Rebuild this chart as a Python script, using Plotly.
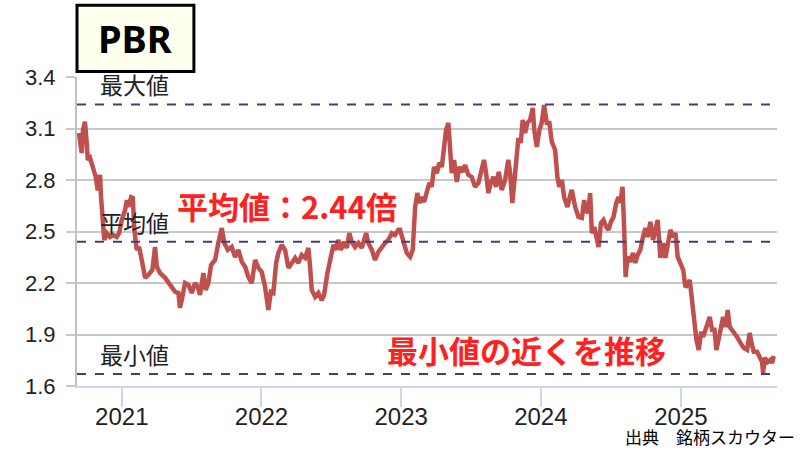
import pandas as pd
import plotly.graph_objects as go

# ---- data ----
years_dec = [
    2020.694, 2020.702, 2020.714, 2020.723, 2020.737, 2020.750, 2020.757, 2020.773, 2020.795, 2020.814,
    2020.828, 2020.838, 2020.845, 2020.852, 2020.861, 2020.875, 2020.893, 2020.916, 2020.938, 2020.964,
    2020.981, 2021.000, 2021.024, 2021.036, 2021.047, 2021.067, 2021.079, 2021.090, 2021.107, 2021.124,
    2021.143, 2021.167, 2021.190, 2021.219, 2021.238, 2021.251, 2021.274, 2021.310, 2021.346, 2021.382,
    2021.405, 2021.417, 2021.434, 2021.453, 2021.477, 2021.501, 2021.525, 2021.544, 2021.560, 2021.584,
    2021.601, 2021.620, 2021.639, 2021.668, 2021.691, 2021.716, 2021.734, 2021.759, 2021.787, 2021.811,
    2021.835, 2021.859, 2021.883, 2021.906, 2021.931, 2021.954, 2021.978, 2022.002, 2022.026, 2022.049,
    2022.067, 2022.085, 2022.105, 2022.121, 2022.145, 2022.169, 2022.193, 2022.217, 2022.241, 2022.264,
    2022.288, 2022.312, 2022.336, 2022.348, 2022.360, 2022.384, 2022.407, 2022.432, 2022.448, 2022.472,
    2022.491, 2022.515, 2022.534, 2022.550, 2022.568, 2022.591, 2022.611, 2022.629, 2022.646, 2022.670,
    2022.694, 2022.718, 2022.749, 2022.765, 2022.790, 2022.813, 2022.837, 2022.861, 2022.885, 2022.908,
    2022.933, 2022.956, 2022.980, 2022.992, 2023.016, 2023.040, 2023.064, 2023.083, 2023.100, 2023.116,
    2023.130, 2023.147, 2023.164, 2023.183, 2023.202, 2023.219, 2023.235, 2023.255, 2023.273, 2023.291,
    2023.307, 2023.321, 2023.338, 2023.350, 2023.362, 2023.379, 2023.398, 2023.417, 2023.441, 2023.457,
    2023.481, 2023.505, 2023.529, 2023.553, 2023.577, 2023.593, 2023.608, 2023.624, 2023.641, 2023.660,
    2023.679, 2023.699, 2023.720, 2023.744, 2023.767, 2023.780, 2023.796, 2023.810, 2023.827, 2023.839,
    2023.856, 2023.870, 2023.887, 2023.903, 2023.923, 2023.942, 2023.953, 2023.971, 2023.989, 2024.006,
    2024.023, 2024.042, 2024.061, 2024.078, 2024.102, 2024.118, 2024.132, 2024.150, 2024.166, 2024.190,
    2024.209, 2024.221, 2024.245, 2024.268, 2024.293, 2024.309, 2024.324, 2024.340, 2024.352, 2024.364,
    2024.381, 2024.400, 2024.412, 2024.429, 2024.447, 2024.467, 2024.483, 2024.500, 2024.519, 2024.538,
    2024.555, 2024.567, 2024.583, 2024.595, 2024.605, 2024.619, 2024.638, 2024.658, 2024.674, 2024.691,
    2024.710, 2024.729, 2024.746, 2024.762, 2024.782, 2024.801, 2024.817, 2024.834, 2024.853, 2024.873,
    2024.889, 2024.905, 2024.925, 2024.944, 2024.961, 2024.977, 2024.996, 2025.016, 2025.032, 2025.049,
    2025.063, 2025.080, 2025.097, 2025.111, 2025.127, 2025.145, 2025.159, 2025.175, 2025.192, 2025.206,
    2025.223, 2025.240, 2025.254, 2025.270, 2025.288, 2025.302, 2025.318, 2025.335, 2025.349, 2025.366,
    2025.383, 2025.402, 2025.426, 2025.449, 2025.474, 2025.492, 2025.505, 2025.521, 2025.545, 2025.564,
    2025.581, 2025.588, 2025.600, 2025.621, 2025.641, 2025.653, 2025.664,
]
pbr = [
    3.074, 3.016, 2.957, 3.090, 3.140, 3.016, 2.917, 2.930, 2.876, 2.818,
    2.740, 2.818, 2.830, 2.700, 2.567, 2.450, 2.490, 2.468, 2.480, 2.468,
    2.490, 2.567, 2.625, 2.683, 2.643, 2.700, 2.695, 2.510, 2.393, 2.410,
    2.334, 2.230, 2.247, 2.276, 2.410, 2.294, 2.258, 2.230, 2.189, 2.148,
    2.142, 2.055, 2.119, 2.200, 2.189, 2.142, 2.200, 2.177, 2.130, 2.258,
    2.160, 2.200, 2.305, 2.334, 2.433, 2.520, 2.433, 2.393, 2.410, 2.352,
    2.393, 2.323, 2.294, 2.235, 2.200, 2.334, 2.288, 2.264, 2.177, 2.043,
    2.148, 2.142, 2.317, 2.375, 2.422, 2.393, 2.288, 2.323, 2.346, 2.317,
    2.363, 2.346, 2.404, 2.294, 2.160, 2.119, 2.142, 2.100, 2.130, 2.258,
    2.334, 2.422, 2.393, 2.451, 2.393, 2.439, 2.404, 2.491, 2.439, 2.410,
    2.433, 2.404, 2.491, 2.433, 2.393, 2.334, 2.381, 2.410, 2.433, 2.451,
    2.491, 2.480, 2.510, 2.510, 2.433, 2.375, 2.352, 2.393, 2.643, 2.724,
    2.666, 2.700, 2.672, 2.742, 2.783, 2.760, 2.876, 2.840, 2.900, 2.876,
    2.992, 3.090, 3.132, 3.016, 2.840, 2.917, 2.789, 2.876, 2.847, 2.888,
    2.830, 2.818, 2.760, 2.783, 2.858, 2.917, 2.840, 2.724, 2.783, 2.818,
    2.760, 2.847, 2.742, 2.800, 2.917, 2.840, 2.666, 2.783, 2.957, 3.045,
    3.016, 3.150, 3.074, 3.132, 3.150, 3.220, 3.090, 2.992, 3.090, 3.132,
    3.237, 3.132, 3.132, 3.022, 2.975, 2.818, 2.760, 2.800, 2.700, 2.643,
    2.710, 2.742, 2.643, 2.585, 2.579, 2.683, 2.608, 2.625, 2.724, 2.491,
    2.526, 2.468, 2.410, 2.550, 2.567, 2.526, 2.510, 2.556, 2.585, 2.666,
    2.700, 2.666, 2.760, 2.510, 2.235, 2.352, 2.323, 2.375, 2.317, 2.363,
    2.393, 2.468, 2.520, 2.468, 2.556, 2.451, 2.520, 2.567, 2.346, 2.433,
    2.346, 2.439, 2.510, 2.468, 2.491, 2.352, 2.317, 2.276, 2.177, 2.189,
    2.218, 2.084, 1.967, 1.868, 1.810, 1.915, 1.886, 1.927, 1.967, 2.002,
    1.927, 1.927, 1.810, 1.886, 1.967, 2.002, 1.944, 2.043, 1.944, 1.927,
    1.909, 1.886, 1.851, 1.822, 1.810, 1.909, 1.851, 1.800, 1.800, 1.770,
    1.740, 1.676, 1.764, 1.740, 1.752, 1.734, 1.775,
]
max_value = 3.24
avg_value = 2.44
min_value = 1.67
ref_labels = ["最大値", "平均値", "最小値"]
title_text = "PBR"
avg_note = "平均値：2.44倍"
trend_note = "最小値の近くを推移"
source_text = "出典　銘柄スカウター"
y_ticks = [1.6, 1.9, 2.2, 2.5, 2.8, 3.1, 3.4]


def to_date(y):
    yr = int(y)
    start = pd.Timestamp(yr, 1, 1)
    ndays = (pd.Timestamp(yr + 1, 1, 1) - start).days
    return start + pd.Timedelta(days=(y - yr) * ndays)


dates = [to_date(v) for v in years_dec]

CJK = "Noto Sans CJK JP"
NUM = "Liberation Sans, Arial, sans-serif"

fig = go.Figure()
fig.add_trace(go.Scatter(
    x=dates, y=pbr, mode="lines",
    line=dict(color="#c0504d", width=4.5),
    hoverinfo="skip", showlegend=False,
))

# reference dashed lines
for val in (max_value, avg_value, min_value):
    fig.add_shape(type="line", xref="paper", yref="y", x0=0, x1=1, y0=val, y1=val,
                  line=dict(color="#4b3a78", width=2, dash="dash"), layer="above")

# labels over reference lines
for lab, val in zip(ref_labels, (max_value, avg_value, min_value)):
    fig.add_annotation(text=lab, xref="paper", yref="y", x=0.03, y=val,
                       xanchor="left", yanchor="bottom", yshift=1, showarrow=False,
                       font=dict(family=CJK, size=23, color="#222222"))

# red notes
fig.add_annotation(text=f"<b>{avg_note}</b>", xref="paper", yref="paper",
                   x=0.14, y=0.585, xanchor="left", yanchor="middle", showarrow=False,
                   font=dict(family=CJK, size=31, color="#ff2020"))
fig.add_annotation(text=f"<b>{trend_note}</b>", xref="paper", yref="paper",
                   x=0.44, y=0.117, xanchor="left", yanchor="middle", showarrow=False,
                   font=dict(family=CJK, size=31, color="#ff2020"))

# title box
fig.add_shape(type="rect", xref="paper", yref="paper", x0=0.0, x1=0.167, y0=1.018, y1=1.232,
              line=dict(color="#000000", width=3), fillcolor="#fffff0", layer="above")
fig.add_annotation(text=f"<b>{title_text}</b>", xref="paper", yref="paper", x=0.0835, y=1.125,
                   xanchor="center", yanchor="middle", showarrow=False,
                   font=dict(family="Noto Sans, sans-serif", size=38, color="#000000"))

# source
fig.add_annotation(text=source_text, xref="paper", yref="paper", x=1.028, y=-0.165,
                   xanchor="right", yanchor="middle", showarrow=False,
                   font=dict(family=CJK, size=17, color="#000000"))

fig.update_layout(
    width=800, height=450,
    margin=dict(l=77, r=23, t=77, b=64, autoexpand=False),
    paper_bgcolor="white", plot_bgcolor="white",
    showlegend=False,
    xaxis=dict(
        type="date", range=["2020-09-06", "2025-09-09"],
        tick0="2021-01-01", dtick="M12", tickformat="%Y",
        showgrid=False, showline=True, linecolor="#ccd6eb", linewidth=2,
        ticks="outside", ticklen=19, tickcolor="#ccd6eb", tickwidth=2,
        ticklabelstandoff=-11,
        tickfont=dict(family=NUM, size=24, color="#222222"),
        zeroline=False, automargin=False,
    ),
    yaxis=dict(
        range=[1.6, 3.4], tickvals=y_ticks, ticktext=[f"{v:.1f}" for v in y_ticks],
        showgrid=True, gridcolor="#c8c8c8", gridwidth=2,
        showline=True, linecolor="#c0c0c0", linewidth=2,
        ticks="outside", ticklen=9, tickcolor="#c8c8c8", tickwidth=2,
        ticklabelstandoff=6,
        tickfont=dict(family=NUM, size=22, color="#222222"),
        zeroline=False, automargin=False,
    ),
)

# remove the default 8px page margin so the figure fills the window exactly
fig.write_html("out.html", config={"displayModeBar": False},
               post_script="document.body.style.margin='0';")
